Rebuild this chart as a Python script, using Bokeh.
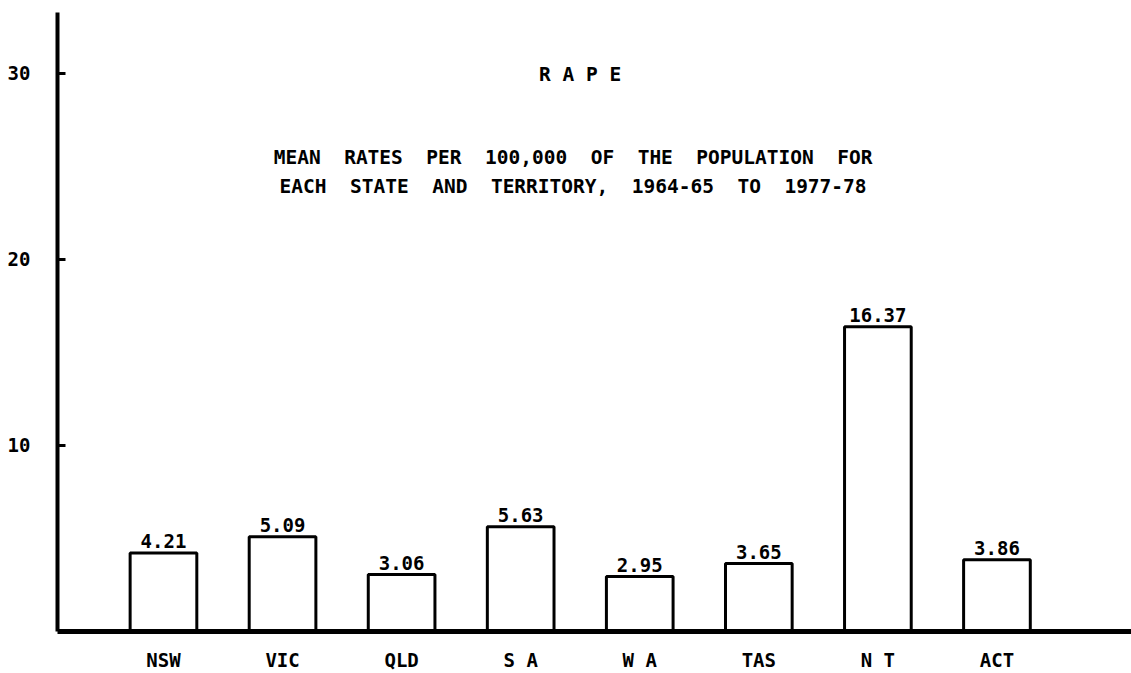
from bokeh.plotting import figure
from bokeh.models import FixedTicker, Range1d, ColumnDataSource, Label
from bokeh.embed import file_html
from bokeh.resources import INLINE
from bokeh.core.properties import value

categories = ["NSW", "VIC", "QLD", "S A", "W A", "TAS", "N T", "ACT"]
rates = [4.21, 5.09, 3.06, 5.63, 2.95, 3.65, 16.37, 3.86]
y_ticks = [10, 20, 30]
NB = "\u00a0"
title_lines = ["R A P E",
               "MEAN  RATES  PER  100,000  OF  THE  POPULATION  FOR",
               "EACH  STATE  AND  TERRITORY,  1964-65  TO  1977-78"]

FONT = "DejaVu Sans Mono"

xs = list(range(len(categories)))
src = ColumnDataSource(dict(x=xs, top=rates, lab=["%.2f" % v for v in rates]))

p = figure(width=1131, height=673, output_backend="svg", toolbar_location=None,
           x_range=Range1d(-0.89, 8.13), y_range=Range1d(0, 33.25),
           min_border_left=57, min_border_top=12, min_border_right=0, min_border_bottom=39)
p.outline_line_color = None
p.xgrid.visible = False
p.ygrid.visible = False
p.background_fill_color = "white"
p.border_fill_color = "white"

p.vbar(x="x", top="top", width=0.56, source=src, fill_color="white",
       line_color="black", line_width=3)
p.text(x="x", y="top", text="lab", source=src, text_align="center",
       text_baseline="alphabetic", y_offset=-12, text_font=value(FONT),
       text_font_style="bold", text_font_size="19px", text_color="black")

# y axis
p.yaxis.ticker = FixedTicker(ticks=y_ticks)
p.yaxis.axis_line_width = 4
p.yaxis.axis_line_color = "black"
p.yaxis.major_tick_in = 8
p.yaxis.major_tick_out = 0
p.yaxis.major_tick_line_width = 3
p.yaxis.minor_tick_line_color = None
p.yaxis.major_label_standoff = 27
p.yaxis.major_label_text_font = FONT
p.yaxis.major_label_text_font_style = "bold"
p.yaxis.major_label_text_font_size = "19px"
p.yaxis.major_label_text_color = "black"

# x axis
p.xaxis.ticker = FixedTicker(ticks=xs)
p.xaxis.major_label_overrides = {i: c for i, c in zip(xs, categories)}
p.xaxis.axis_line_width = 5
p.xaxis.axis_line_color = "black"
p.xaxis.major_tick_line_color = None
p.xaxis.minor_tick_line_color = None
p.xaxis.major_tick_in = 0
p.xaxis.major_tick_out = 0
p.xaxis.major_label_standoff = 17
p.xaxis.major_label_text_font = FONT
p.xaxis.major_label_text_font_style = "bold"
p.xaxis.major_label_text_font_size = "19px"
p.xaxis.major_label_text_color = "black"

# titles inside the plot area
for txt, xv, yv in zip(title_lines, [3.50, 3.44, 3.44], [29.9, 25.45, 23.9]):
    p.add_layout(Label(x=xv, y=yv, text=txt.replace(" ", NB), text_align="center",
                       text_baseline="middle", text_font=FONT,
                       text_font_style="bold", text_font_size="19.5px",
                       text_color="black"))

open("out.html", "w").write(file_html(p, INLINE))
